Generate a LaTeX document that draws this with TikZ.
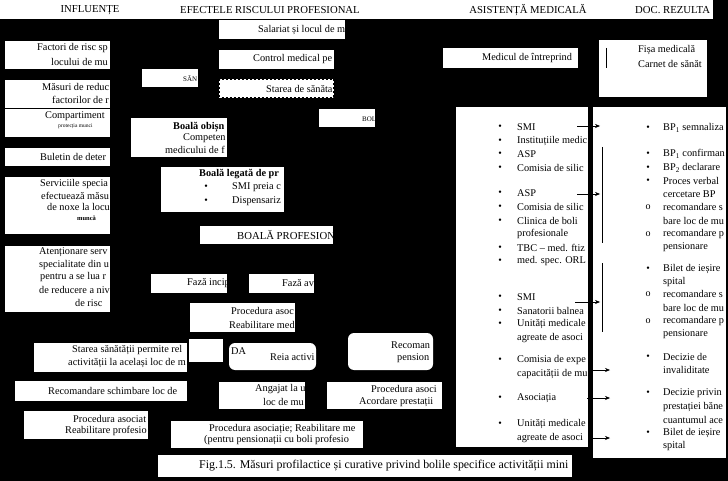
\documentclass[tikz,border=0pt]{standalone}
\usepackage{fontspec}
\setmainfont{Liberation Serif}
\usetikzlibrary{arrows.meta}
\newcommand\wbox[5]{%
  \fill[white] (#1,#2) rectangle (#3,#4);
  \begin{scope}\clip (#1,#2) rectangle (#3,#4); #5 \end{scope}}
\newcommand\rbox[5]{%
  \fill[white,rounded corners=6pt] (#1,#2) rectangle (#3,#4);
  \begin{scope}\clip[rounded corners=6pt] (#1,#2) rectangle (#3,#4); #5 \end{scope}}
\begin{document}
\begin{tikzpicture}[x=1pt,y=-1pt,
  t/.style={anchor=west,inner sep=0pt,font=\fontsize{10.3}{11}\selectfont,text=black},
  tb/.style={t,font=\fontsize{10.3}{11}\selectfont\bfseries},
  ts/.style={t,font=\fontsize{5.5}{6}\selectfont},
  tsm/.style={t,font=\fontsize{7}{8}\selectfont},
  tsb/.style={t,font=\fontsize{6.5}{7}\selectfont\bfseries},
  hd/.style={anchor=center,inner sep=0pt,font=\fontsize{10.7}{11}\selectfont},
  bul/.style={anchor=center,inner sep=0pt,font=\fontsize{10}{10}\selectfont},
  arr/.style={draw=black,line width=0.6pt,-{Stealth[length=5pt,width=4pt]}},
  ln/.style={draw=black,line width=0.6pt}]
\useasboundingbox (0,0) rectangle (728,481);
\fill[black] (0,0) rectangle (728,481);
% header
\fill[white] (0,0) rectangle (713,19);
\node[hd] (h1) at (90,10) {INFLUENȚE};
\node[hd] (h2) at (270,10) {EFECTELE RISCULUI PROFESIONAL};
\node[hd] (h3) at (528,10) {ASISTENȚĂ MEDICALĂ};
\node[hd,anchor=west] (h4) at (635,10) {DOC. REZULTA};
% left column
\wbox{5}{41}{110}{69}{\node[t] (l1a) at (37,48) {Factori de risc sp}; \node[t] (l1b) at (51,62) {locului de mu};}
\wbox{5}{80}{110}{137}{\node[t] (l2a) at (42,87) {Măsuri de reduc}; \node[t] (l2b) at (52,100) {factorilor de r};
  \node[t] (l3a) at (45,116) {Compartiment}; \node[ts] (l3b) at (58,126) {protecția munci};}
\draw[black,line width=0.6pt] (5,108) -- (110,108);
\wbox{5}{148}{110}{166}{\node[t] (l4) at (40,157) {Buletin de deter};}
\wbox{5}{177}{110}{234}{\node[t] (l5a) at (40,184) {Serviciile specia}; \node[t] (l5b) at (41,196) {efectuează măsu};
  \node[t] (l5c) at (47,207) {de noxe la locu}; \node[tsb] (l5d) at (77,218) {muncă};}
\wbox{5}{246}{110}{312}{\node[t] (l6a) at (39,252) {Atenționare serv}; \node[t] (l6b) at (39,265) {specialitate din u};
  \node[t] (l6c) at (40,277) {pentru a se lua r}; \node[t] (l6d) at (39,290) {de reducere a niv}; \node[t] (l6e) at (75,303) {de risc};}
% lower left
\wbox{34}{343}{187}{372}{\node[t] (s1a) at (72,350) {Starea sănătății permite rel}; \node[t] (s1b) at (68,363) {activității la același loc de m};}
\fill[white] (189,339) rectangle (223,362);
\wbox{15}{381}{187}{401}{\node[t] (s2) at (48,391) {Recomandare schimbare loc de};}
\wbox{24}{411}{148}{439}{\node[t] (s3a) at (73,419) {Procedura asociat}; \node[t] (s3b) at (65,431) {Reabilitare profesio};}
% middle column
\wbox{219}{20}{345}{39}{\node[t] (m1) at (258,30) {Salariat și locul de m};}
\wbox{219}{50}{334}{69}{\node[t] (m2) at (253,59) {Control medical pe};}
\wbox{142}{69}{198}{87}{\node[tsm] (m3) at (183,79) {SĂN};}
\wbox{219}{79}{334}{98}{\node[t] (m4) at (266,89) {Starea de sănăta};}
\draw[black,line width=0.6pt,dash pattern=on 2pt off 2pt] (219.5,79.5) rectangle (333.5,97.5);
\wbox{319}{109}{375}{127}{\node[tsm] (m5) at (362,119) {BOL};}
\wbox{131}{118}{227}{157}{\node[tb] (m6a) at (173,127) {Boală obișn}; \node[t] (m6b) at (183,138) {Competen}; \node[t] (m6c) at (165,150) {medicului de f};}
\wbox{161}{167}{284}{212}{\node[tb] (m7a) at (199,174) {Boală legată de pr};
  \node[bul] (m7b) at (206,187) {•}; \node[t] (m7c) at (232,187) {SMI preia c};
  \node[bul] (m7d) at (206,201) {•}; \node[t] (m7e) at (232,201) {Dispensariz};}
\wbox{200}{226}{333}{244}{\node[t,font=\fontsize{10.7}{11}\selectfont] (m8) at (237,235) {BOALĂ PROFESION};}
\wbox{151}{274}{227}{293}{\node[t] (m9) at (187,283) {Fază incip};}
\wbox{249}{274}{314}{293}{\node[t] (m10) at (282,283) {Fază av};}
\wbox{190}{303}{295}{332}{\node[t] (m11a) at (231,311) {Procedura asoc}; \node[t] (m11b) at (229,325) {Reabilitare med};}
\rbox{229}{343}{316}{370}{\node[t] (m12a) at (231,351) {DA}; \node[t] (m12b) at (270,357) {Reia activi};}
\rbox{348}{333}{433}{370}{\node[t] (m13a) at (391,345) {Recoman}; \node[t] (m13b) at (397,358) {pension};}
\wbox{219}{382}{305}{409}{\node[t] (m14a) at (255,389) {Angajat la u}; \node[t] (m14b) at (263,402) {loc de mu};}
\wbox{327}{382}{442}{409}{\node[t] (m15a) at (371,389) {Procedura asoci}; \node[t] (m15b) at (359,402) {Acordare prestații};}
\wbox{171}{421}{363}{448}{\node[t] (m16a) at (209,429) {Procedura asociație; Reabilitare me}; \node[t] (m16b) at (204,440) {(pentru pensionații cu boli profesio};}
\wbox{158}{455}{572}{477}{\node[t,font=\fontsize{11.9}{13}\selectfont] (cap) at (199,466) {Fig.1.5. Măsuri profilactice și curative privind bolile specifice activității mini};}
% right part
\wbox{443}{48}{578}{68}{\node[t] (r1) at (482,58) {Medicul de întreprind};}
\wbox{599}{40}{707}{97}{\node[t] (r2a) at (638,50) {Fișa medicală}; \node[t] (r2b) at (638,64) {Carnet de sănăt};}
\draw[ln] (606,48) -- (606,68);
% asistenta box
\wbox{456}{107}{588}{447}{
  \foreach \yy/\tx in {127/SMI,141/Instituțiile medic,154/ASP,168/Comisia de silic,
    193/ASP,207/Comisia de silic,221/Clinica de boli,248/TBC – med. ftiz,261/med. spec. ORL,
    297/SMI,311/Sanatorii balnea,324/Unități medicale,360/Comisia de expe,398/Asociația,424/Unități medicale}
    {\node[bul] at (500,\yy) {•}; \node[t] at (517,\yy) {\tx};}
  \foreach \yy/\tx in {234/profesionale,338/agreate de asoci,374/capacității de mu,438/agreate de asoci}
    {\node[t] at (517,\yy) {\tx};}
  \coordinate (a1) at (577,126); \coordinate (a2) at (577,194); \coordinate (a3) at (575,302);
}
% documents box
\wbox{593}{107}{726}{458}{
  \foreach \yy/\tx in {128/BP\textsubscript{1} semnaliza,154/BP\textsubscript{1} confirman,168/BP\textsubscript{2} declarare,
    181/Proces verbal,269/Bilet de ieșire,357/Decizie de,393/Decizie privin,433/Bilet de ieșire}
    {\node[bul] at (648,\yy) {•}; \node[t] at (663,\yy) {\tx};}
  \foreach \yy/\tx in {207/recomandare s,234/recomandare p,294/recomandare s,321/recomandare p}
    {\node[bul] at (648,\yy) {o}; \node[t] at (663,\yy) {\tx};}
  \foreach \yy/\tx in {194/cercetare BP,221/bare loc de mu,247/pensionare,282/spital,308/bare loc de mu,334/pensionare,
    370/invaliditate,407/prestației băne,420/cuantumul ace,446/spital}
    {\node[t] at (663,\yy) {\tx};}
  \coordinate (b1) at (600,126); \coordinate (b2) at (600,194); \coordinate (b3) at (600,302);
  \coordinate (b4) at (610,370); \coordinate (b5) at (610,398); \coordinate (b6) at (610,438);
}
\coordinate (a4) at (593,370); \coordinate (a5) at (587,398); \coordinate (a6) at (590,438);
\draw[ln] (602,147) -- (602,243);
\draw[ln] (602,263) -- (602,332);
\draw[arr] (a1) -- (b1);
\draw[arr] (a2) -- (b2);
\draw[arr] (a3) -- (b3);
\draw[arr] (a4) -- (b4);
\draw[arr] (a5) -- (b5);
\draw[arr] (a6) -- (b6);
\end{tikzpicture}
\end{document}
